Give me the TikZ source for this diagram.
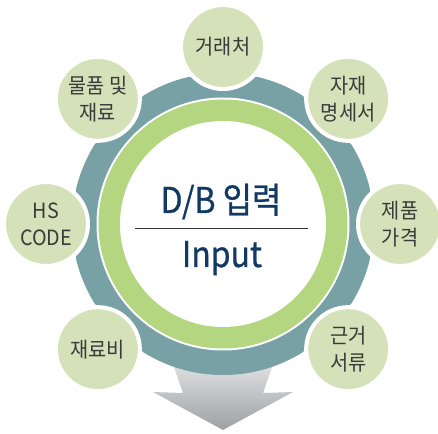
\documentclass[tikz,border=0pt]{standalone}
\usepackage{fontspec}
\setmainfont{Noto Sans CJK KR}
\newfontfamily\titlefont[FakeBold=0.7,FakeStretch=0.9]{Noto Sans CJK KR}
\newfontfamily\bubblefont[FakeStretch=0.94]{Noto Sans CJK KR}
\definecolor{gearteal}{RGB}{120,161,165}
\definecolor{ringgreen}{RGB}{180,214,128}
\definecolor{bubble}{RGB}{213,225,185}
\definecolor{bubbletext}{RGB}{58,58,58}
\definecolor{navy}{RGB}{16,58,99}
\definecolor{arrowtop}{RGB}{236,237,239}
\definecolor{arrowbot}{RGB}{158,160,163}
\tikzset{
  bubblebox/.style={circle, fill=bubble, draw=white, line width=4pt, minimum size=84pt,
    inner sep=0pt, align=center, text=bubbletext, font=\bubblefont\fontsize{21}{27}\selectfont},
  titletext/.style={text=navy, font=\titlefont\fontsize{35.5}{35.5}\selectfont, inner sep=0pt, anchor=base}
}
\begin{document}
\begin{tikzpicture}[x=1pt,y=1pt]
\useasboundingbox (0,0) rectangle (438,433);
\fill[white] (0,0) rectangle (438,433);
\coordinate (c) at (223,209);
% arrow behind the gear
\shade[top color=arrowtop, bottom color=arrowbot]
  (168,83) -- (183,40) -- (153,41) -- (223,3) -- (293,41) -- (263,40) -- (278,83) -- cycle;
% gear
\begin{scope}
  \clip (370,269.9) -- (283.9,356) -- (162.1,356) -- (76,269.9) -- (76,148.1)
        -- (200,24) -- (246,24) -- (370,148.1) -- cycle;
  \fill[gearteal] (c) circle[radius=151];
\end{scope}
\fill[white] (c) circle[radius=126.5];
\fill[ringgreen] (c) circle[radius=124.5];
\fill[white] (c) circle[radius=103];
% bubbles
\path (c) ++(90:177) node[bubblebox] (b1) {거래처};
\path (c) ++(45:177) node[bubblebox] (b2) {자재\\명세서};
\path (c) ++(0:177) node[bubblebox] (b3) {제품\\가격};
\path (c) ++(-45:177) node[bubblebox] (b4) {근거\\서류};
\path (c) ++(-135:177) node[bubblebox] (b5) {재료비};
\path (c) ++(180:177) node[bubblebox] (b6) {HS\\CODE};
\path (c) ++(135:177) node[bubblebox] (b7) {물품 및\\재료};
% centre text
\node[titletext] (title) at (221,220) {D/B 입력};
\node[titletext] (input) at (222,166) {Input};
\coordinate (dl) at (135,205);
\coordinate (dr) at (308,205);
\draw[line width=0.9pt, color=black!80] (dl) -- (dr);
\end{tikzpicture}
\end{document}
